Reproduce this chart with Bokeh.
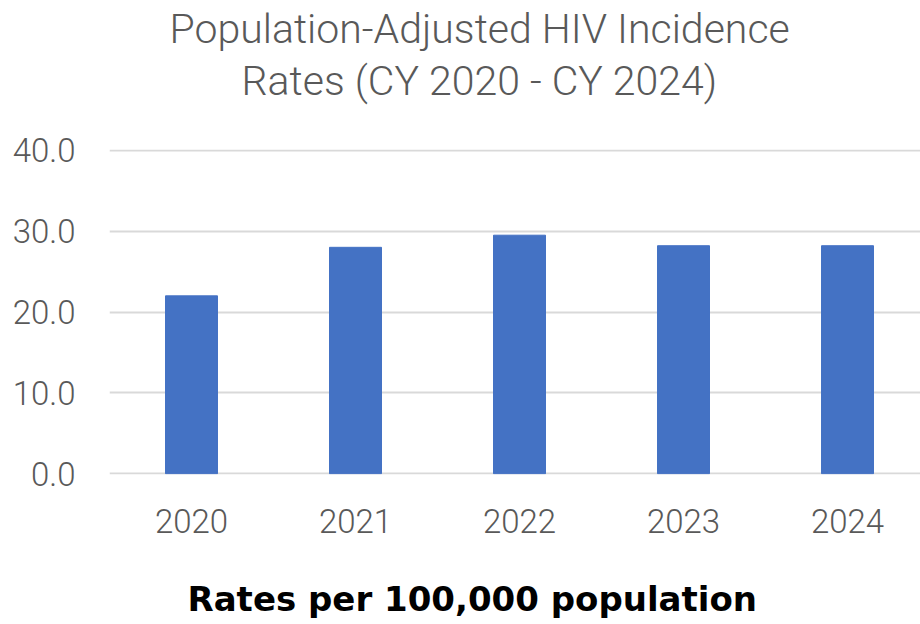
from bokeh.plotting import figure
from bokeh.models import Range1d, FixedTicker, Title, CustomJSTickFormatter
from bokeh.embed import file_html
from bokeh.resources import INLINE

# Population-adjusted HIV incidence, rates per 100,000 population
years = [2020, 2021, 2022, 2023, 2024]
rates = [22.0, 28.0, 29.5, 28.2, 28.2]
y_ticks = [0, 10, 20, 30, 40]
year_labels = [str(y) for y in years]

LIGHT = "Roboto Light"
GREY = "#595959"
FRAME_LEFT = 109

p = figure(
    width=920, height=624,
    output_backend="svg", toolbar_location=None,
    x_range=Range1d(2019.5, 2024.445),
    y_range=Range1d(-0.1, 40.1),
    min_border_left=FRAME_LEFT, min_border_right=0,
    min_border_top=149, min_border_bottom=150,
    outline_line_color=None,
)

p.vbar(x=years, top=rates, width=0.317, color="#4472C4")

# y axis: labels only, gridlines carry the scale
p.yaxis.ticker = FixedTicker(ticks=y_ticks)
p.yaxis.formatter = CustomJSTickFormatter(code="return tick.toFixed(1);")
p.yaxis.axis_line_color = None
p.yaxis.major_tick_line_color = None
p.yaxis.minor_tick_line_color = None
p.yaxis.major_tick_out = 0
p.yaxis.major_label_standoff = 34
p.yaxis.major_label_text_font = LIGHT
p.yaxis.major_label_text_font_size = "33px"
p.yaxis.major_label_text_color = GREY

p.xaxis.ticker = FixedTicker(ticks=years)
p.xaxis.major_label_overrides = {y: s for y, s in zip(years, year_labels)}
p.xaxis.axis_line_color = None
p.xaxis.major_tick_line_color = None
p.xaxis.minor_tick_line_color = None
p.xaxis.major_tick_out = 0
p.xaxis.major_label_standoff = 34
p.xaxis.major_label_text_font = LIGHT
p.xaxis.major_label_text_font_size = "33px"
p.xaxis.major_label_text_color = GREY

p.xgrid.grid_line_color = None
p.ygrid.ticker = FixedTicker(ticks=y_ticks)
p.ygrid.grid_line_color = "#d9d9d9"
p.ygrid.grid_line_width = 2

# two-line title; the line nearest the plot is added first
for txt, left, gap in [("Rates (CY 2020 - CY 2024)", 241, 90),
                       ("Population-Adjusted HIV Incidence", 169, -86)]:
    p.add_layout(Title(text=txt, align="left", offset=left - FRAME_LEFT,
                       standoff=gap, text_font=LIGHT, text_font_size="41px",
                       text_font_style="normal", text_color=GREY), "above")

# blank band between the year labels and the footnote
p.add_layout(Title(text=" ", text_font_size="1px", standoff=33), "below")

# footnote under the axis labels
p.add_layout(Title(text="Rates per 100,000 population", align="left",
                   offset=187 - FRAME_LEFT, standoff=10,
                   text_font="DejaVu Sans", text_font_style="bold",
                   text_font_size="34px", text_color="#000000"), "below")

open("out.html", "w").write(file_html(p, INLINE))
